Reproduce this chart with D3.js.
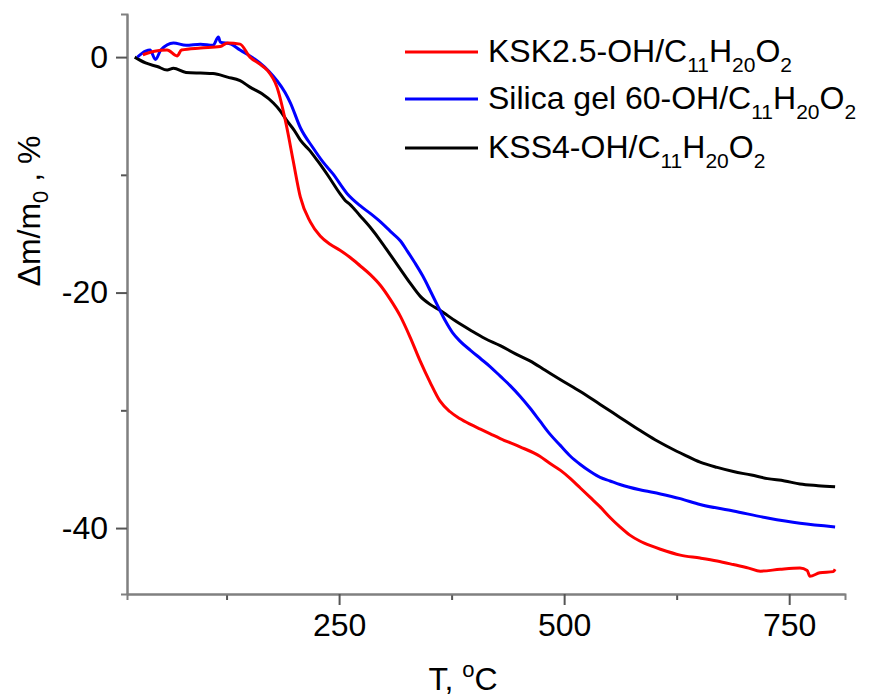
<!DOCTYPE html>
<html>
<head>
<meta charset="utf-8">
<script src="https://cdnjs.cloudflare.com/ajax/libs/d3/7.8.5/d3.min.js"></script>
<style>
  body { margin: 0; background: #fff; }
  svg text { font-family: "Liberation Sans", Arial, sans-serif; fill: #000; }
</style>
</head>
<body>
<div id="chart"></div>
<script>
// temperature (°C) and mass change (%)
var redT = [32, 45, 59, 70, 75, 96, 118, 126, 140, 151, 162, 170, 181, 192, 199, 207, 218, 229, 240, 251, 262, 273, 285, 296, 307, 318, 329, 340, 351, 362, 373, 384, 396, 407, 418, 429, 451, 473, 484, 496, 507, 518, 529, 540, 551, 562, 573, 584, 596, 607, 629, 651, 670, 688, 705, 718, 740, 762, 770, 773, 784, 799, 801];
var redV = [0.2, 0.5, 0.6, 0.1, 0.6, 0.77, 0.9, 1.2, 1.1, 0.0, -0.6, -1.1, -2.55, -6.0, -8.8, -11.9, -14.0, -15.2, -15.9, -16.4, -17.0, -17.7, -18.5, -19.4, -20.6, -22.0, -23.8, -25.8, -27.6, -29.2, -30.1, -30.7, -31.2, -31.6, -32.0, -32.4, -33.1, -33.9, -34.5, -35.1, -35.8, -36.6, -37.4, -38.2, -39.1, -39.9, -40.6, -41.1, -41.5, -41.8, -42.3, -42.55, -42.8, -43.1, -43.4, -43.66, -43.5, -43.4, -43.6, -44.1, -43.8, -43.7, -43.5];

var blueT = [26, 35, 40, 46, 52, 66, 80, 96, 110, 116, 118, 130, 140, 151, 162, 172, 181, 190, 196, 207, 221, 232, 243, 259, 273, 285, 296, 307, 318, 326, 334, 343, 351, 360, 368, 376, 384, 396, 407, 418, 429, 440, 451, 462, 473, 484, 496, 507, 518, 529, 540, 551, 562, 584, 607, 629, 651, 688, 726, 762, 801];
var blueV = [0.0, 0.5, 0.6, -0.2, 0.6, 1.2, 1.0, 1.1, 1.0, 1.7, 1.28, 1.1, 0.6, 0.1, -0.5, -1.2, -2.0, -3.0, -3.9, -6.0, -7.7, -8.9, -9.9, -11.6, -12.6, -13.3, -14.0, -14.8, -15.6, -16.5, -17.45, -18.6, -19.8, -21.2, -22.4, -23.4, -24.1, -24.9, -25.6, -26.3, -27.1, -27.9, -28.8, -29.8, -30.9, -32.0, -33.0, -33.9, -34.6, -35.2, -35.7, -36.0, -36.3, -36.75, -37.1, -37.5, -38.0, -38.55, -39.15, -39.6, -39.9];

var blackT = [23, 35, 48, 59, 66, 80, 96, 110, 126, 140, 151, 164, 177, 185, 192, 200, 207, 217, 226, 238, 251, 257, 262, 273, 285, 296, 307, 318, 329, 340, 351, 362, 379, 396, 412, 429, 446, 462, 479, 496, 518, 540, 562, 584, 601, 618, 634, 651, 670, 688, 708, 726, 745, 762, 782, 801];
var blackV = [0.0, -0.5, -0.8, -1.1, -0.95, -1.3, -1.36, -1.4, -1.7, -2.0, -2.55, -3.1, -3.9, -4.6, -5.4, -6.2, -7.06, -7.9, -8.8, -10.1, -11.6, -12.2, -12.5, -13.45, -14.5, -15.6, -16.8, -18.0, -19.2, -20.3, -21.0, -21.5, -22.4, -23.2, -23.9, -24.5, -25.2, -25.8, -26.6, -27.4, -28.4, -29.5, -30.6, -31.7, -32.5, -33.2, -33.8, -34.4, -34.85, -35.2, -35.5, -35.8, -36.0, -36.26, -36.4, -36.5];

var seriesNames = ["KSK2.5-OH/C", "Silica gel 60-OH/C", "KSS4-OH/C"];
var seriesColors = ["#ff0000", "#0000ff", "#000000"];

var xMajor = [250, 500, 750];
var xMinor = [125, 375, 625];
var yMajor = [0, -20, -40];
var yMinor = [-10, -30];

var width = 875, height = 697;
var plotLeft = 127, plotRight = 845, plotTop = 14, plotBottom = 594;

var svg = d3.select("#chart").append("svg")
    .attr("width", width)
    .attr("height", height);

var x = d3.scaleLinear().domain([14.4, 812]).range([plotLeft, plotRight]);
var y = d3.scaleLinear().domain([-45.6, 3.66]).range([plotBottom, plotTop]);

function styleAxis(g) {
    g.select(".domain").attr("stroke", "#808080").attr("stroke-width", 2);
    g.selectAll(".tick line").attr("stroke", "#555").attr("stroke-width", 2);
    g.selectAll(".tick text").attr("font-size", 32).attr("fill", "#000")
        .attr("font-family", "Liberation Sans, Arial, sans-serif");
}

// minor ticks first, majors on top
svg.append("g")
    .attr("transform", "translate(0," + plotBottom + ")")
    .call(d3.axisBottom(x).tickValues(xMinor).tickSize(6).tickFormat(""))
    .call(styleAxis);
svg.append("g")
    .attr("transform", "translate(" + plotLeft + ",0)")
    .call(d3.axisLeft(y).tickValues(yMinor).tickSize(6).tickFormat(""))
    .call(styleAxis);

svg.append("g")
    .attr("transform", "translate(0," + plotBottom + ")")
    .call(d3.axisBottom(x).tickValues(xMajor).tickSize(11).tickPadding(8).tickSizeOuter(0))
    .call(styleAxis);
svg.append("g")
    .attr("transform", "translate(" + plotLeft + ",0)")
    .call(d3.axisLeft(y).tickValues(yMajor).tickSize(11).tickPadding(8).tickSizeOuter(0)
        .tickFormat(function(d){ return String(d); }))   // plain hyphen like the original
    .call(styleAxis);

var line = d3.line()
    .x(function(d){ return x(d[0]); })
    .y(function(d){ return y(d[1]); })
    .curve(d3.curveMonotoneX);

function pairs(t, v){ return t.map(function(d, i){ return [d, v[i]]; }); }

var series = [pairs(redT, redV), pairs(blueT, blueV), pairs(blackT, blackV)];

// black first, then blue, red on top
[2, 1, 0].forEach(function(i){
    svg.append("path")
        .datum(series[i])
        .attr("fill", "none")
        .attr("stroke", seriesColors[i])
        .attr("stroke-width", 3)
        .attr("stroke-linejoin", "round")
        .attr("d", line);
});

// legend
var legendY = [52, 99, 148];
seriesNames.forEach(function(name, i){
    svg.append("line")
        .attr("x1", 405).attr("x2", 478)
        .attr("y1", legendY[i]).attr("y2", legendY[i])
        .attr("stroke", seriesColors[i])
        .attr("stroke-width", 3);
    var t = svg.append("text")
        .attr("x", 488)
        .attr("y", legendY[i] + 10)
        .attr("font-size", 32);
    t.append("tspan").text(name);
    t.append("tspan").attr("font-size", 21).attr("dy", 10).text("11");
    t.append("tspan").attr("dy", -10).text("H");
    t.append("tspan").attr("font-size", 21).attr("dy", 10).text("20");
    t.append("tspan").attr("dy", -10).text("O");
    t.append("tspan").attr("font-size", 21).attr("dy", 10).text("2");
});

// axis titles
var xt = svg.append("text")
    .attr("x", 463)
    .attr("y", 690)
    .attr("text-anchor", "middle")
    .attr("font-size", 32);
xt.append("tspan").text("T, ");
xt.append("tspan").attr("font-size", 22).attr("dy", -13).text("o");
xt.append("tspan").attr("dy", 13).text("C");

var yt = svg.append("text")
    .attr("transform", "translate(40,211) rotate(-90)")
    .attr("text-anchor", "middle")
    .attr("font-size", 32);
yt.append("tspan").text("Δm/m");
yt.append("tspan").attr("font-size", 22).attr("dy", 8).text("0");
yt.append("tspan").attr("dy", -8).text(" , %");
</script>
</body>
</html>
